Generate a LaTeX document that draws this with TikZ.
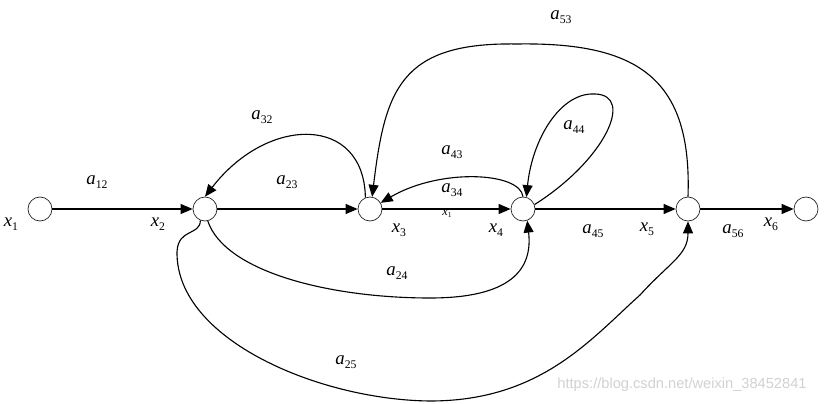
\documentclass[tikz,border=0pt]{standalone}
\usepackage{fontspec}
\setmainfont{Liberation Serif}
\newfontfamily\wmfont{Liberation Sans}
\usetikzlibrary{arrows.meta}
\newcommand\glab[2]{\textit{#1}\raisebox{-0.45ex}{\fontsize{10}{10}\selectfont #2}}
\begin{document}
\begin{tikzpicture}[x=0.03cm,y=-0.03cm,
  state/.style={circle,draw=black!85,line width=0.6pt,minimum size=0.72cm,inner sep=0pt,fill=white},
  edge/.style={line width=0.95pt,-{Triangle[length=3.6mm,width=3mm]}},
  lbl/.style={font=\fontsize{16}{16}\selectfont,inner sep=0pt}]
\useasboundingbox (0,0) rectangle (825,404);
% nodes
\node[state] (x1) at (40,209) {};
\node[state] (x2) at (205,209) {};
\node[state] (x3) at (370,209) {};
\node[state] (x4) at (523,209) {};
\node[state] (x5) at (688,209) {};
\node[state] (x6) at (806,209) {};
% straight edges
\draw[edge] (x1) -- (x2);
\draw[edge] (x2) -- (x3);
\draw[edge] (x3) -- (x4);
\draw[edge] (x4) -- (x5);
\draw[edge] (x5) -- (x6);
% a32
\draw[edge] (x3.112) .. controls (364,115) and (268,115) .. (x2.north);
% a53
\coordinate (t53) at (517,44);
\draw[edge] (x5.north) .. controls (692,80) and (640,42) .. (t53) .. controls (400,42) and (385,90) .. (x3.80);
% a43
\draw[edge] (x4.north) .. controls (520,172) and (440,168) .. (x3.30);
% a44
\coordinate (t44) at (595,94);
\draw[edge] (x4.21) .. controls (605,160) and (635,95) .. (t44) .. controls (560,92) and (532,140) .. (x4.74);
% a24
\coordinate (b24) at (430,298);
\draw[edge] (x2.283) .. controls (225,272) and (330,298) .. (b24) .. controls (510,298) and (533,270) .. (x4.290);
% a25
\coordinate (h25) at (177,252);
\coordinate (b25) at (430,401);
\coordinate (r25) at (640,295);
\draw[edge] (x2.248) .. controls (200,236) and (178,228) .. (h25) .. controls (176,340) and (320,400) .. (b25) .. controls (540,401) and (590,340) .. (r25) .. controls (670,262) and (688,255) .. (x5.south);
% labels
\node[lbl] (lx1) at (11,224) {\glab{x}{1}};
\node[lbl] (la12) at (97,182) {\glab{a}{12}};
\node[lbl] (lx2) at (158,224) {\glab{x}{2}};
\node[lbl] (la23) at (287,182) {\glab{a}{23}};
\node[lbl] (la32) at (262,117) {\glab{a}{32}};
\node[lbl] (la43) at (452,152) {\glab{a}{43}};
\node[lbl] (la34) at (452,190) {\glab{a}{34}};
\node[inner sep=0pt,font=\fontsize{10.5}{11}\selectfont] (lsx1) at (447,214) {\textit{x}\raisebox{-0.4ex}{\fontsize{6.5}{7}\selectfont 1}};
\node[lbl] (lx3) at (399,230) {\glab{x}{3}};
\node[lbl] (lx4) at (496,230) {\glab{x}{4}};
\node[lbl] (la44) at (574,127) {\glab{a}{44}};
\node[lbl] (la45) at (593,231) {\glab{a}{45}};
\node[lbl] (lx5) at (647,229) {\glab{x}{5}};
\node[lbl] (la56) at (733,231) {\glab{a}{56}};
\node[lbl] (lx6) at (771,224) {\glab{x}{6}};
\node[lbl] (la53) at (561,17) {\glab{a}{53}};
\node[lbl] (la24) at (397,273) {\glab{a}{24}};
\node[lbl] (la25) at (346,362) {\glab{a}{25}};
\node[inner sep=0pt,text=black!18,font=\wmfont\fontsize{12.5}{13}\selectfont] (wm) at (682,385) {https://blog.csdn.net/weixin\_38452841};
\end{tikzpicture}
\end{document}
